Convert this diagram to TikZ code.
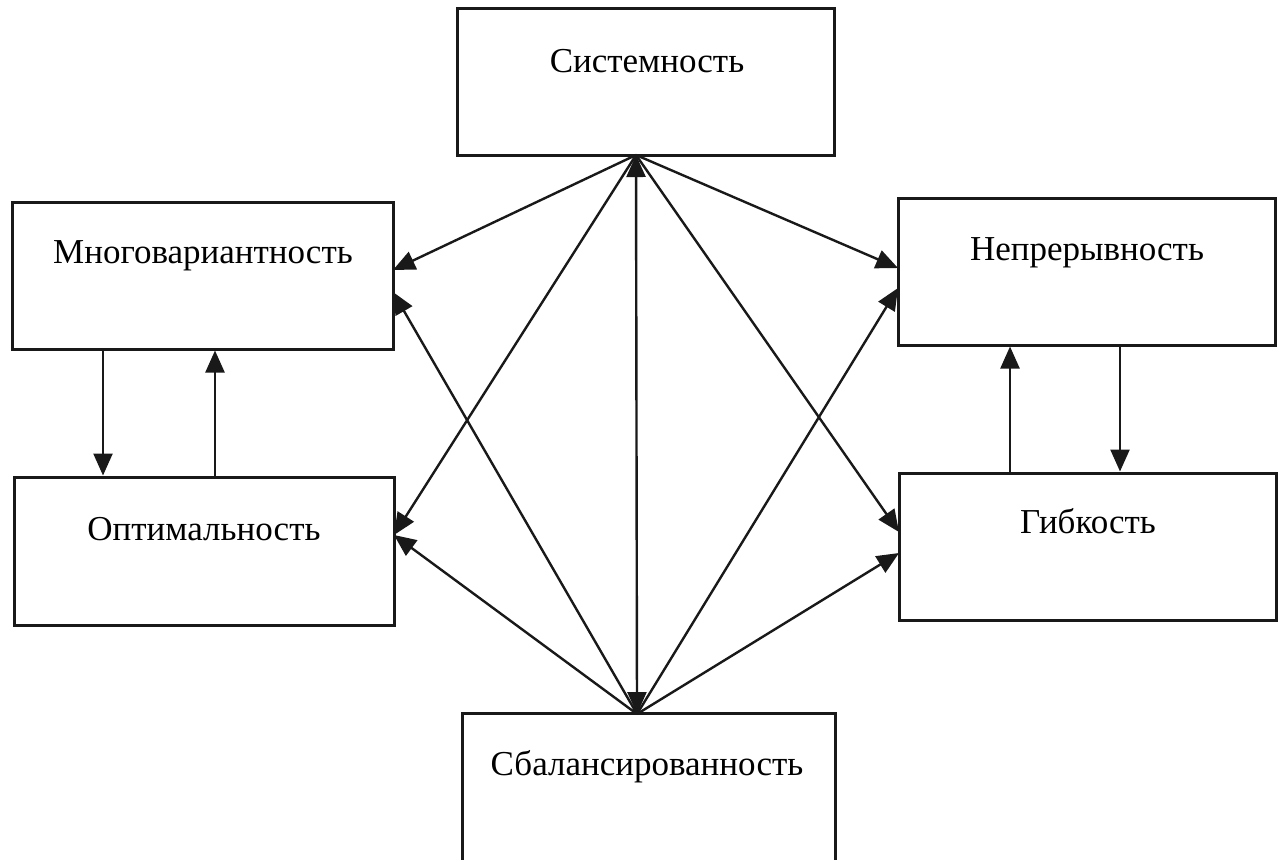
\documentclass[tikz,border=0pt]{standalone}
\usepackage{fontspec}
\setmainfont{Liberation Serif}
\usetikzlibrary{arrows.meta,fit}
\begin{document}
\begin{tikzpicture}[x=0.5pt,y=-0.5pt,
  box/.style={draw=black!90,line width=1.5pt,inner sep=0pt,fill=none},
  lbl/.style={anchor=base,inner sep=0pt,font=\fontsize{17.5}{20}\selectfont},
  arr/.style={draw=black!90,line width=1.2pt,-{Triangle[length=11pt,width=9.5pt]}},
  darr/.style={draw=black!90,line width=1.2pt,{Triangle[length=11pt,width=9.5pt]}-{Triangle[length=11pt,width=9.5pt]}}]
\useasboundingbox (0,0) rectangle (1283,859);
\clip (0,0) rectangle (1283,859);
% boxes
\node[box,fit={(457,8) (834,155)}] (sys) {};
\node[box,fit={(12,202) (393,349)}] (mno) {};
\node[box,fit={(14,477) (394,625)}] (opt) {};
\node[box,fit={(898,198) (1275,345)}] (nep) {};
\node[box,fit={(899,473) (1276,620)}] (gib) {};
\node[box,fit={(462,713) (835,900)}] (bal) {};
% labels
\node[lbl] (tsys) at (647,72) {Системность};
\node[lbl] (tmno) at (203,263) {Многовариантность};
\node[lbl] (topt) at (204,540) {Оптимальность};
\node[lbl] (tnep) at (1087,260) {Непрерывность};
\node[lbl] (tgib) at (1088,533) {Гибкость};
\node[lbl] (tbal) at (647,775) {Сбалансированность};
% hubs and endpoints
\coordinate (ht) at (636,155);
\coordinate (hb) at (637,714);
\coordinate (m1) at (393,270);
\coordinate (m2) at (393,292);
\coordinate (o1) at (394,535);
\coordinate (n1) at (898,268);
\coordinate (n2) at (898,288);
\coordinate (g1) at (899,532);
\coordinate (g2) at (899,553);
% connectors
\draw[darr] (ht) -- (hb);
\draw[arr] (ht) -- (m1);
\draw[arr] (hb) -- (m2);
\draw[arr] (ht) -- (o1);
\draw[arr] (hb) -- (o1);
\draw[arr] (ht) -- (n1);
\draw[arr] (hb) -- (n2);
\draw[arr] (ht) -- (g1);
\draw[arr] (hb) -- (g2);
% vertical pairs
\draw[arr] (mno.south -| 103,0) -- (opt.north -| 103,0);
\draw[arr] (opt.north -| 215,0) -- (mno.south -| 215,0);
\draw[arr] (gib.north -| 1010,0) -- (nep.south -| 1010,0);
\draw[arr] (nep.south -| 1120,0) -- (gib.north -| 1120,0);
\end{tikzpicture}
\end{document}
